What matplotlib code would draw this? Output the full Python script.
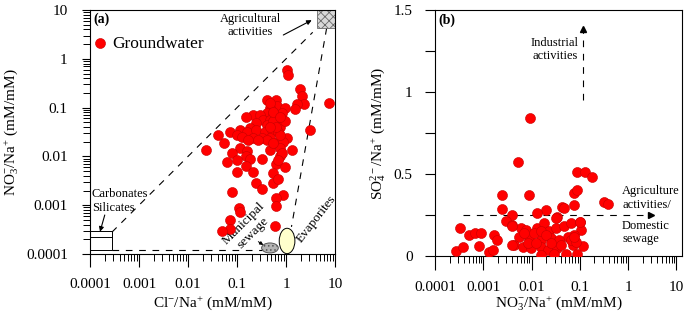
import numpy as np
import matplotlib
matplotlib.use('Agg')
import matplotlib.pyplot as plt
from matplotlib.patches import Ellipse, Rectangle
from matplotlib.ticker import LogLocator, NullFormatter

# ---- data ----
# panel (a): Cl/Na vs NO3/Na
a_cl = [1.03, 1.11, 1.9, 2.14, 2.31, 1.65, 1.56, 7.65, 0.40, 0.637,
        0.664, 0.471, 0.955, 0.817, 0.40, 0.551, 0.215, 0.294, 0.149, 0.344,
        0.471, 0.637, 0.869, 0.248, 0.404, 0.597, 0.755, 0.184, 0.117, 0.072,
        0.158, 0.248, 0.372, 0.51, 0.697, 3.13, 0.0415, 0.098, 0.125, 0.215,
        0.327, 0.471, 1.03, 0.054, 0.17, 0.637, 0.869, 0.0233, 0.117, 0.471,
        0.755, 1.31, 0.158, 0.079, 0.149, 0.184, 0.755, 0.063, 0.098, 0.327,
        0.149, 0.637, 0.955, 0.098, 0.215, 0.551, 0.248, 0.551, 0.697, 0.327,
        0.079, 0.869, 0.637, 0.637, 0.108, 0.117, 0.072, 0.072, 0.049, 0.597,
        0.471, 0.551, 0.755, 0.40, 0.551, 0.27, 0.817, 0.637, 0.955, 0.551,
        0.755, 0.471, 0.697]
a_no3 = [0.58, 0.47, 0.237, 0.17, 0.116, 0.116, 0.092, 0.124, 0.145, 0.145,
         0.106, 0.097, 0.097, 0.076, 0.076, 0.076, 0.070, 0.070, 0.064, 0.056,
         0.056, 0.056, 0.056, 0.048, 0.044, 0.044, 0.041, 0.038, 0.034, 0.032,
         0.032, 0.034, 0.032, 0.034, 0.032, 0.034, 0.0275, 0.0275, 0.0254, 0.024,
         0.024, 0.024, 0.024, 0.0188, 0.0217, 0.0188, 0.020, 0.0137, 0.015, 0.0137,
         0.015, 0.0137, 0.013, 0.0116, 0.010, 0.0089, 0.010, 0.0078, 0.0084, 0.0089,
         0.0064, 0.0071, 0.006, 0.0049, 0.0049, 0.0045, 0.0029, 0.0029, 0.0034, 0.0021,
         0.0019, 0.0016, 0.0014, 0.00096, 0.00086, 0.00072, 0.0005, 0.00033, 0.00029, 0.00038,
         0.124, 0.053, 0.0275, 0.0217, 0.0188, 0.0217, 0.0116, 0.041, 0.053, 0.081,
         0.064, 0.041, 0.0084]

# panel (b): NO3/Na vs SO4/Na
b_no3 = [0.0094, 0.0052, 0.0885, 0.13, 0.178, 0.076, 0.0885, 0.32, 0.39, 0.0025,
         0.0088, 0.076, 0.043, 0.0475, 0.0199, 0.0132, 0.0025, 0.0039, 0.034, 0.00033,
         0.00051, 0.00069, 0.00091, 0.00169, 0.00192, 0.00027, 0.00038, 0.00082, 0.00133, 0.00157,
         0.0029, 0.0039, 0.006, 0.0077, 0.0132, 0.0183, 0.0232, 0.032, 0.0475, 0.065,
         0.099, 0.105, 0.076, 0.056, 0.0056, 0.0088, 0.0157, 0.0252, 0.037, 0.0043,
         0.0065, 0.0097, 0.0157, 0.0215, 0.034, 0.071, 0.114, 0.0157, 0.0295, 0.0515,
         0.0885, 0.0071, 0.0114, 0.0157, 0.0199, 0.0252, 0.041, 0.0083, 0.0123, 0.065,
         0.083, 0.0039, 0.0039, 0.032, 0.099, 0.076]
b_so4 = [0.84, 0.575, 0.51, 0.51, 0.48, 0.385, 0.40, 0.33, 0.32, 0.37,
         0.37, 0.31, 0.30, 0.29, 0.28, 0.26, 0.285, 0.25, 0.235, 0.17,
         0.125, 0.14, 0.14, 0.125, 0.098, 0.031, 0.052, 0.059, 0.026, 0.039,
         0.215, 0.19, 0.17, 0.16, 0.17, 0.20, 0.15, 0.17, 0.18, 0.20,
         0.205, 0.16, 0.125, 0.118, 0.118, 0.108, 0.098, 0.108, 0.098, 0.067,
         0.052, 0.047, 0.057, 0.037, 0.047, 0.067, 0.059, 0.006, 0.011, 0.011,
         0.011, 0.14, 0.14, 0.15, 0.125, 0.077, 0.067, 0.077, 0.077, 0.098,
         0.087, 0.067, 0.18, 0.23, 0.21, 0.118]

log_ticks = [0.0001, 0.001, 0.01, 0.1, 1, 10]
log_labels = ['0.0001', '0.001', '0.01', '0.1', '1', '10']
b_yticks = [0, 0.5, 1, 1.5]
b_ylabels = ['0', '0.5', '1', '1.5']

plt.rcParams['font.family'] = ['Liberation Serif', 'DejaVu Serif']
plt.rcParams['mathtext.fontset'] = 'custom'
plt.rcParams['mathtext.rm'] = 'Liberation Serif'
plt.rcParams['mathtext.it'] = 'Liberation Serif:italic'
plt.rcParams['hatch.linewidth'] = 0.6

DASH = (0, (6, 6))
RED = '#ff0000'


def frac(v, lo, hi):
    # position of v on a log axis, as axes fraction
    return (np.log10(v) - np.log10(lo)) / (np.log10(hi) - np.log10(lo))


fig = plt.figure(figsize=(6.85, 3.16), dpi=100)
ax1 = fig.add_axes([0.1314, 0.1962, 0.3577, 0.772])
ax2 = fig.add_axes([0.635, 0.19, 0.3606, 0.778])

# ================= panel (a) =================
ax1.set_xscale('log')
ax1.set_yscale('log')
ax1.set_xlim(1e-4, 10)
ax1.set_ylim(1e-4, 10)

# end-member lines
ax1.plot([2.8e-4, 3.5], [2.8e-4, 3.5], color='k', ls=DASH, lw=0.8, zorder=1)
ax1.plot([6.75, 1.29], [4.28, 3.6e-4], color='k', ls=DASH, lw=0.8, zorder=1)
ax1.plot([2.8e-4, 0.32], [1.22e-4, 1.22e-4], color='k', ls=DASH, lw=0.8, zorder=1)

# carbonates / silicates box
ax1.add_patch(Rectangle((1e-4, 1.2e-4), 2.8e-4 - 1e-4, 2.9e-4 - 1.2e-4,
                        fill=False, edgecolor='k', lw=0.7, zorder=2))
ax1.plot([1e-4, 2.8e-4], [2.2e-4, 2.2e-4], color='k', lw=0.7, zorder=2)

# agricultural square
ax1.add_patch(Rectangle((4.2, 4.2), 10 - 4.2, 10 - 4.2, facecolor='#d8d8d8',
                        edgecolor='#6a6a6a', hatch='xxxx', lw=0.6, zorder=2,
                        clip_on=False))

# sewage + evaporites ellipses (drawn in axes fraction so they stay round)
ax1.add_patch(Ellipse((frac(0.47, 1e-4, 10), frac(1.33e-4, 1e-4, 10)),
                      0.34 / 5, 0.205 / 5, transform=ax1.transAxes,
                      facecolor='#b4b4b4', edgecolor='#555555', hatch='....',
                      lw=0.7, zorder=3, clip_on=False))
ax1.add_patch(Ellipse((frac(1.05, 1e-4, 10), frac(1.85e-4, 1e-4, 10)),
                      0.32 / 5, 0.52 / 5, transform=ax1.transAxes,
                      facecolor='#ffffcc', edgecolor='k', lw=0.7, zorder=3,
                      clip_on=False))

ax1.scatter(a_cl, a_no3, s=52, color=RED, edgecolors='#c80000',
            linewidths=0.4, zorder=4, label='Groundwater')

# annotations
ax1.text(0.012, 0.988, '(a)', transform=ax1.transAxes, fontsize=10,
         fontweight='bold', va='top', ha='left')
ax1.text(0.19, 4.85, 'Agricultural\nactivities', ha='center', va='center',
         fontsize=9, linespacing=1.1)
ax1.annotate('', xy=(3.34, 6.2), xytext=(0.88, 3.08),
             arrowprops=dict(arrowstyle='-|>', color='k', lw=0.8,
                             mutation_scale=7, shrinkA=0, shrinkB=0))
ax1.text(1.08e-4, 1.7e-3, 'Carbonates', ha='left', va='center', fontsize=9)
ax1.text(1.08e-4, 8.8e-4, 'Silicates', ha='left', va='center', fontsize=9)
ax1.annotate('', xy=(1.6e-4, 2.86e-4), xytext=(2.0e-4, 6.3e-4),
             arrowprops=dict(arrowstyle='-|>', color='k', lw=0.8,
                             mutation_scale=7, shrinkA=0, shrinkB=0))
ax1.text(0.17, 3.4e-4, 'Municipal\nsewage', rotation=45, ha='center',
         va='center', fontsize=9.5, linespacing=1.1)
ax1.annotate('', xy=(0.344, 1.53e-4), xytext=(0.272, 1.79e-4),
             arrowprops=dict(arrowstyle='-|>', color='k', lw=0.7,
                             mutation_scale=5, shrinkA=0, shrinkB=0))
ax1.text(4.1, 5.2e-4, 'Evaporites', rotation=52, ha='center', va='center',
         fontsize=9.5)

ax1.legend(loc='upper left', bbox_to_anchor=(-0.005, 0.895), frameon=False,
           fontsize=12.5, handletextpad=0.05, borderpad=0, borderaxespad=0,
           handlelength=1.3, scatterpoints=1)

ax1.set_xticks(log_ticks)
ax1.set_xticklabels(log_labels)
ax1.set_yticks(log_ticks)
ax1.set_yticklabels(log_labels)
ax1.xaxis.set_minor_locator(LogLocator(base=10, subs=np.arange(2, 10)))
ax1.yaxis.set_minor_locator(LogLocator(base=10, subs=np.arange(2, 10)))
ax1.xaxis.set_minor_formatter(NullFormatter())
ax1.yaxis.set_minor_formatter(NullFormatter())
ax1.tick_params(axis='x', which='major', length=9, width=0.8, pad=8, labelsize=11)
ax1.tick_params(axis='x', which='minor', length=5, width=0.7)
ax1.tick_params(axis='y', which='major', length=6, width=0.8, pad=10, labelsize=11)
ax1.tick_params(axis='y', which='minor', length=5, width=0.7)
ax1.set_xlabel(r'Cl$^{-}$/Na$^{+}$ (mM/mM)', fontsize=11)
ax1.set_ylabel(r'NO$_3^{-}$/Na$^{+}$ (mM/mM)', fontsize=11)
ax1.xaxis.set_label_coords(0.5, -0.165)
ax1.yaxis.set_label_coords(-0.28, 0.5)

# ================= panel (b) =================
ax2.set_xscale('log')
ax2.set_xlim(1e-4, 13)
ax2.set_ylim(0, 1.5)

# industrial trend arrow
ax2.plot([0.114, 0.114], [0.95, 1.37], color='k', ls=DASH, lw=0.8, zorder=1)
ax2.plot([0.114], [1.385], marker='^', color='k', ms=4, zorder=1)
# agriculture / domestic trend arrow
ax2.plot([3.8e-4, 2.6], [0.25, 0.25], color='k', ls=DASH, lw=0.8, zorder=1)
ax2.plot([2.97], [0.25], marker='>', color='k', ms=4, zorder=1)

ax2.scatter(b_no3, b_so4, s=52, color=RED, edgecolors='#c80000',
            linewidths=0.4, zorder=4)

ax2.text(0.012, 0.988, '(b)', transform=ax2.transAxes, fontsize=10,
         fontweight='bold', va='top', ha='left')
ax2.text(0.0305, 1.262, 'Industrial\nactivities', ha='center', va='center',
         fontsize=9, linespacing=1.1)
ax2.text(0.745, 0.354, 'Agriculture\nactivities/', ha='left', va='center',
         fontsize=9, linespacing=1.15)
ax2.text(0.745, 0.143, 'Domestic\nsewage', ha='left', va='center',
         fontsize=9, linespacing=1.15)

ax2.set_xticks(log_ticks)
ax2.set_xticklabels(log_labels)
ax2.xaxis.set_minor_locator(LogLocator(base=10, subs=np.arange(2, 10)))
ax2.xaxis.set_minor_formatter(NullFormatter())
ax2.set_yticks(b_yticks)
ax2.set_yticklabels(b_ylabels)
ax2.set_yticks([0.25, 0.75, 1.25], minor=True)
ax2.tick_params(axis='x', which='major', length=10, width=0.8, pad=8, labelsize=11)
ax2.tick_params(axis='x', which='minor', length=5, width=0.7)
ax2.tick_params(axis='y', which='both', length=7, width=0.8, pad=9, labelsize=11)
ax2.set_xlabel(r'NO$_3^{-}$/Na$^{+}$ (mM/mM)', fontsize=11)
ax2.set_ylabel(r'SO$_4^{2-}$/Na$^{+}$ (mM/mM)', fontsize=11)
ax2.xaxis.set_label_coords(0.5, -0.16)
ax2.yaxis.set_label_coords(-0.19, 0.5)

for ax in (ax1, ax2):
    for sp in ax.spines.values():
        sp.set_linewidth(0.8)

fig.savefig('out.png', dpi=100)
